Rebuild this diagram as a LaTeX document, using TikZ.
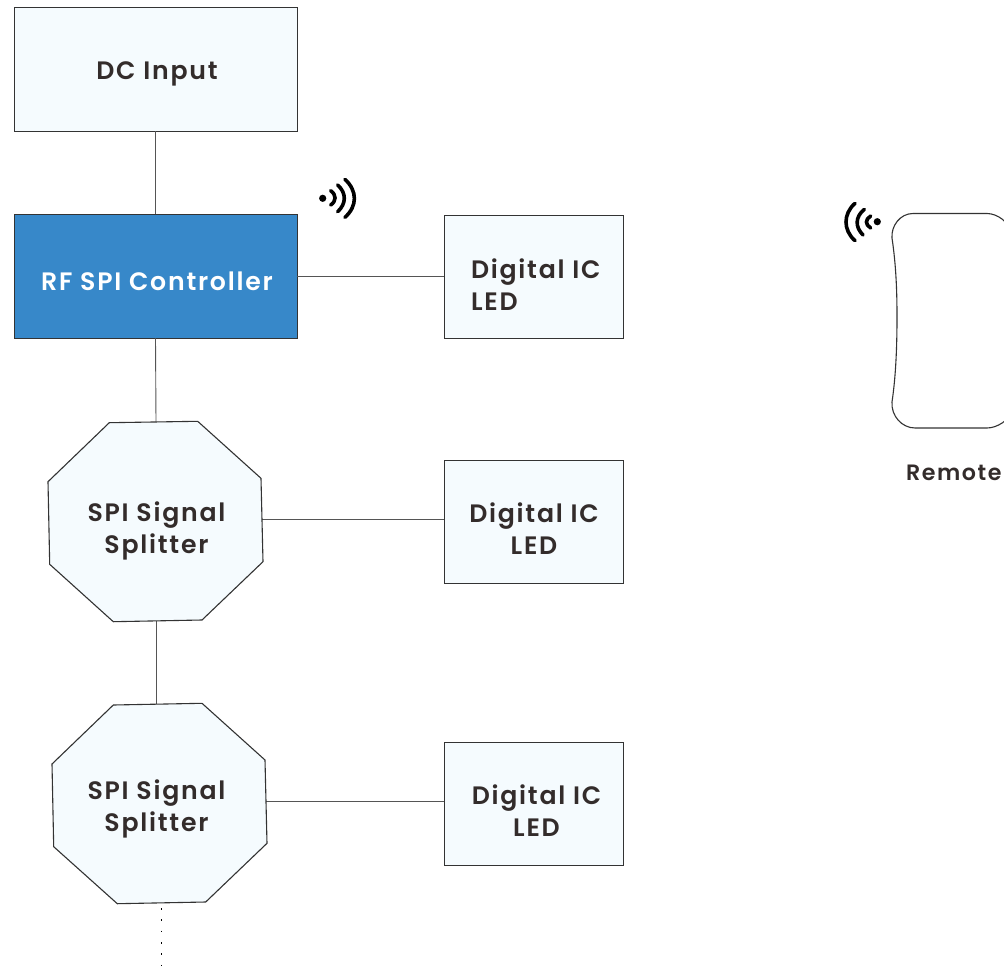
\documentclass[tikz,border=0pt]{standalone}
\usepackage{fontspec}
\setmainfont[LetterSpace=7,BoldFont={Poppins SemiBold}]{Poppins}
\definecolor{ink}{HTML}{332C2B}
\definecolor{paleblue}{HTML}{F5FBFE}
\definecolor{ctrlblue}{HTML}{3788C9}
\definecolor{wire}{HTML}{555555}
\definecolor{edgeink}{HTML}{333333}
\tikzset{
  every node/.style={inner sep=0pt,outer sep=0pt},
  box/.style={draw=edgeink,line width=0.8pt,fill=paleblue,anchor=north west},
  ctrlbox/.style={box,fill=ctrlblue},
  octa/.style={draw=edgeink,line width=1.1pt,fill=paleblue,line join=miter},
  wirelink/.style={draw=wire,line width=0.9pt},
  dotlink/.style={draw=black,line width=1.7pt,dash pattern=on 1.7pt off 9.65pt},
  lbl/.style={text=ink,font=\bfseries\fontsize{25.2}{32}\selectfont,align=center},
  lblw/.style={lbl,text=white},
  lblleft/.style={lbl,align=left,anchor=west},
  wave/.style={draw=black,line width=3.6pt,line cap=round},
  remote/.style={draw=edgeink,line width=1.1pt}
}
\begin{document}
\begin{tikzpicture}[x=1pt,y=-1pt]
\useasboundingbox (0,0) rectangle (1004,966);
% connector end points
\coordinate (s1top) at (156,422);
\coordinate (s1bot) at (156,621);
\coordinate (s1right) at (262,519.5);
\coordinate (s2top) at (156,704);
\coordinate (s2right) at (266,801.5);
\coordinate (s2bot) at (161.5,908);
\coordinate (dotend) at (161.5,966);
\coordinate (rfright) at (297,276.5);
% boxes
\node[box,minimum width=283pt,minimum height=124pt] (dc) at (14,7) {};
\node[ctrlbox,minimum width=283pt,minimum height=124pt] (rf) at (14,214) {};
\node[box,minimum width=179.6pt,minimum height=123pt] (led1) at (444,215) {};
\node[box,minimum width=179.6pt,minimum height=123pt] (led2) at (444,460) {};
\node[box,minimum width=179.6pt,minimum height=123pt] (led3) at (444,742) {};
% connectors
\draw[wirelink] (dc.south) -- (rf.north);
\draw[wirelink] (rf.south) -- (s1top);
\draw[wirelink] (s1bot) -- (s2top);
\draw[wirelink] (rfright) -- (led1.west);
\draw[wirelink] (s1right) -- (s1right -| led2.west);
\draw[wirelink] (s2right) -- (s2right -| led3.west);
\draw[dotlink] (s2bot) -- (dotend);
% octagons
\draw[octa] (109.3,422.7) -- (197.7,421.3) -- (261,478.3) -- (263,561.7) -- (202,620) -- (113.3,621.7) -- (49.7,564.3) -- (48,481.7) -- cycle;
\draw[octa] (113.3,705) -- (202,703.3) -- (265,760) -- (267,843.3) -- (205.7,902) -- (117.3,903.7) -- (53.7,846.7) -- (52,764) -- cycle;
% labels
\node[lbl] (tdc) at (157,74) {DC Input};
\node[lblw] (trf) at (157,281) {RF SPI Controller};
\node[lblleft] (tl1) at (471,285) {Digital IC\\LED};
\node[lbl] (tl2) at (534,529) {Digital IC\\LED};
\node[lbl] (tl3) at (536.5,811) {Digital IC\\LED};
\node[lbl] (ts1) at (156.5,531) {SPI Signal\\Splitter};
\node[lbl] (ts2) at (156.5,809) {SPI Signal\\Splitter};
\node[lbl,anchor=west,font=\bfseries\fontsize{22.2}{32}\selectfont] (trem) at (906,473) {Remote};
% controller signal icon
\fill[black] (322.7,198.3) circle (3.6);
\draw[wave] (330.7,190.7) .. controls (336.5,195) and (336.5,201) .. (330.7,205);
\draw[wave] (337.7,185) .. controls (346.5,193) and (346.5,203.5) .. (337.7,211.7);
\draw[wave] (345,179.3) .. controls (357.5,191) and (357.5,206) .. (345,217.3);
% remote signal icon
\fill[black] (877.3,221.7) circle (3.6);
\draw[wave] (870.7,216) .. controls (865,219.5) and (865,224.5) .. (870.7,228);
\draw[wave] (864.3,209.3) .. controls (855,217) and (855,227) .. (863,235);
\draw[wave] (855,203.3) .. controls (843,214) and (843,230) .. (855,240.7);
% remote body (runs past the page edge)
\draw[remote] (913,213.5) -- (987,213.5) .. controls (997,213.5) and (1010,222) .. (1012,235) -- (1012,410) .. controls (1010,420) and (997,428) .. (987,428) -- (915,428) .. controls (902,428) and (891,416) .. (892,402) .. controls (896,375) and (897,345) .. (897,317) .. controls (897,290) and (896,265) .. (892,238) .. controls (891,226) and (900,213.5) .. (913,213.5) -- cycle;
\end{tikzpicture}
\end{document}
